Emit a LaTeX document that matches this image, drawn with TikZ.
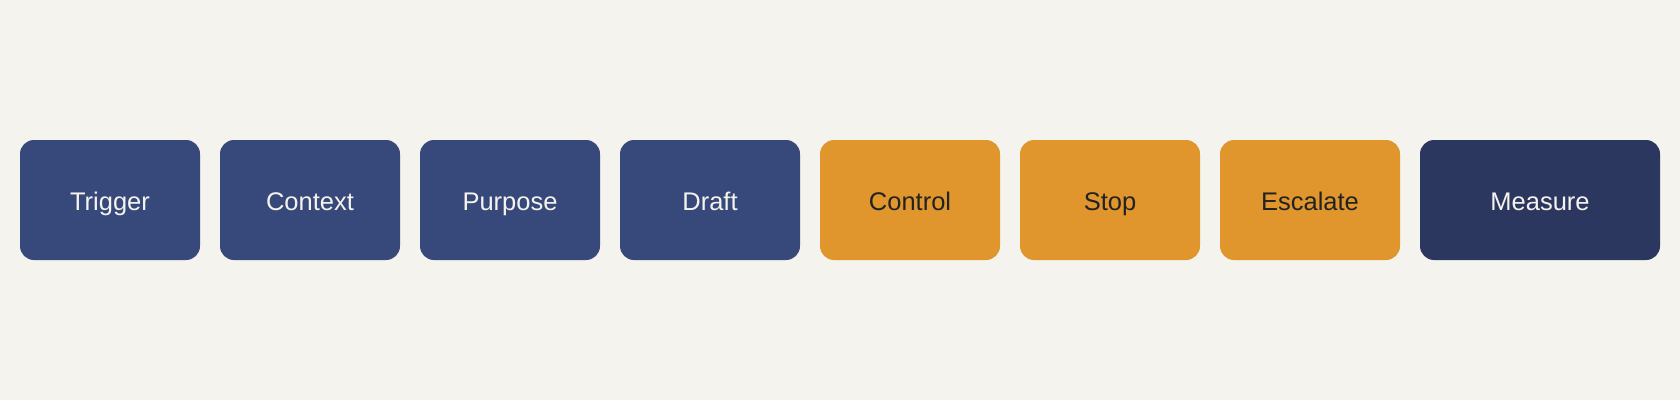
\documentclass[tikz,border=0pt]{standalone}
\usepackage{fontspec}
\setmainfont{Liberation Sans}
\definecolor{bg}{HTML}{F4F3EE}
\definecolor{stepblue}{HTML}{37487A}
\definecolor{steporange}{HTML}{E0962C}
\definecolor{stepdark}{HTML}{2C375F}
\definecolor{lighttext}{HTML}{F4F3EE}
\definecolor{darktext}{HTML}{222222}
\tikzset{
  box/.style={rounded corners=14pt, minimum height=120pt, inner sep=0pt,
    font=\fontsize{25.5}{30}\selectfont, text height=20pt, text depth=0pt},
  bluebox/.style={box, fill=stepblue, text=lighttext, minimum width=180pt},
  orangebox/.style={box, fill=steporange, text=darktext, minimum width=180pt},
  darkbox/.style={box, fill=stepdark, text=lighttext, minimum width=240pt},
}
\begin{document}
\begin{tikzpicture}[x=1pt,y=1pt]
\fill[bg] (0,0) rectangle (1680,400);
\useasboundingbox (0,0) rectangle (1680,400);
\node[bluebox] (trigger) at (110,200) {Trigger};
\node[bluebox] (context) at (310,200) {Context};
\node[bluebox] (purpose) at (510,200) {Purpose};
\node[bluebox] (draft) at (710,200) {Draft};
\node[orangebox] (control) at (910,200) {Control};
\node[orangebox] (stop) at (1110,200) {Stop};
\node[orangebox] (escalate) at (1310,200) {Escalate};
\node[darkbox] (measure) at (1540,200) {Measure};
\end{tikzpicture}
\end{document}
